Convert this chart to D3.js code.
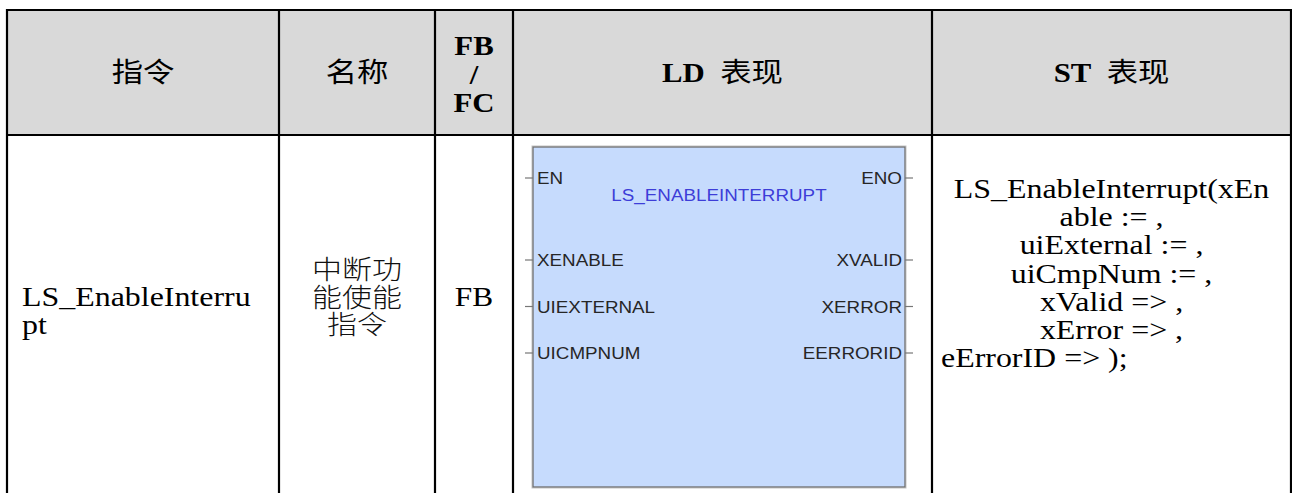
<!DOCTYPE html>
<html><head><meta charset="utf-8">
<script src="https://cdn.jsdelivr.net/npm/d3@7"></script>
<style>html,body{margin:0;padding:0;background:#fff;overflow:hidden} svg{display:block}</style>
</head><body>
<svg id="c" width="1292" height="493"></svg>
<script>
// ---------- data ----------
const headerLines = [["指令"], ["名称"], ["FB", "/", "FC"], ["LD 表现"], ["ST 表现"]];
const instructionLines = ["LS_EnableInterru", "pt"];
const nameLines = ["中断功", "能使能", "指令"];
const typeLines = ["FB"];
const blockName = "LS_ENABLEINTERRUPT";
const inputPins = ["EN", "XENABLE", "UIEXTERNAL", "UICMPNUM"];
const outputPins = ["ENO", "XVALID", "XERROR", "EERRORID"];
const stLines = ["LS_EnableInterrupt(xEn", "able := ,", "uiExternal := ,", "uiCmpNum := ,", "xValid => ,", "xError => ,", "eErrorID => );"];

(function () {
// ---------- layout ----------
const svg = d3.select("#c");
const colEdges = [7, 279, 435, 513, 932, 1291];
const tableTop = 10, headBottom = 135, bodyBottom = 505;
const edge = i => colEdges[i];
const center = i => (edge(i) + edge(i + 1)) / 2;
const K = 1.14; // horizontal stretch of the source picture

const SERIF = "'Liberation Serif','Times New Roman',serif";
const CJK = "'Noto Sans CJK SC','Noto Sans CJK JP',sans-serif";
const SANS = "'Liberation Sans',Arial,sans-serif";

function stext(x, y, anchor) {
  return svg.append("g").attr("transform", `translate(${x},${y}) scale(${K},1)`)
    .append("text").attr("x", 0).attr("y", 0).attr("text-anchor", anchor || "start");
}

// header background
svg.append("rect").attr("x", edge(0)).attr("y", tableTop)
  .attr("width", edge(5) - edge(0)).attr("height", headBottom - tableTop).attr("fill", "#d9d9d9");

// header text
const isCJK = s => /[\u3000-\u9fff]/.test(s);
headerLines.forEach((lines, ci) => {
  const yScale = d3.scaleLinear().domain([0, Math.max(1, lines.length - 1)])
    .range(lines.length === 1 ? [82, 82] : [55, 112]);
  lines.forEach((ln, li) => {
    const t = stext(center(ci), yScale(li), "middle").attr("fill", "#000");
    ln.split(/(\s+)/).forEach(part => {
      if (!part) return;
      if (/^\s+$/.test(part)) { t.append("tspan").attr("font-family", SERIF).attr("font-size", 27).text("\u00a0\u00a0"); return; }
      if (isCJK(part)) t.append("tspan").attr("font-family", CJK).attr("font-size", 27.5).attr("font-weight", 400).text(part);
      else t.append("tspan").attr("font-family", SERIF).attr("font-size", 27).attr("font-weight", "bold").text(part);
    });
  });
});

// body: instruction column
const lineY2 = d3.scaleLinear().domain([0, 1]).range([306, 334]);
instructionLines.forEach((ln, i) => {
  stext(edge(0) + 15, lineY2(i)).attr("font-family", SERIF).attr("font-size", 28).attr("fill", "#000").text(ln);
});
// name column
const lineY3 = d3.scaleLinear().domain([0, 2]).range([279, 334]);
nameLines.forEach((ln, i) => {
  stext(center(1), lineY3(i), "middle").attr("font-family", CJK).attr("font-size", 26.3)
    .attr("font-weight", 300).attr("fill", "#111").text(ln);
});
// type column
typeLines.forEach(ln => {
  stext(center(2), 306, "middle").attr("font-family", SERIF).attr("font-size", 27.5).attr("fill", "#000").text(ln);
});

// LD block
const bx0 = 533, bx1 = 905, by0 = 147, by1 = 487;
svg.append("rect").attr("x", bx0 - 1).attr("y", by0 - 1).attr("width", bx1 - bx0 + 2).attr("height", by1 - by0 + 2)
  .attr("fill", "none").attr("stroke", "#c4c4c4").attr("stroke-width", 1);
svg.append("rect").attr("x", bx0).attr("y", by0).attr("width", bx1 - bx0).attr("height", by1 - by0)
  .attr("fill", "#c6dbfd").attr("stroke", "#6f6f6f").attr("stroke-width", 1.3);
const pinY = d3.scaleLinear().domain([0, 1, 3]).range([178, 260, 353]);
stext((bx0 + bx1) / 2, 201, "middle").attr("font-family", SANS).attr("font-size", 16.5)
  .attr("fill", "#3d3dd8").text(blockName);
inputPins.forEach((p, i) => {
  svg.append("line").attr("x1", bx0 - 8).attr("x2", bx0).attr("y1", pinY(i)).attr("y2", pinY(i))
    .attr("stroke", "#777").attr("stroke-width", 1.2);
  stext(bx0 + 4, pinY(i) + 6).attr("font-family", SANS).attr("font-size", 16.5).attr("fill", "#262626").text(p);
});
outputPins.forEach((p, i) => {
  svg.append("line").attr("x1", bx1).attr("x2", bx1 + 8).attr("y1", pinY(i)).attr("y2", pinY(i))
    .attr("stroke", "#777").attr("stroke-width", 1.2);
  stext(bx1 - 3, pinY(i) + 6, "end").attr("font-family", SANS).attr("font-size", 16.5).attr("fill", "#262626").text(p);
});

// ST column
const stY = d3.scaleLinear().domain([0, stLines.length - 1]).range([198, 367]);
stLines.forEach((ln, i) => {
  const last = i === stLines.length - 1;
  stext(last ? edge(4) + 9 : center(4), stY(i), last ? "start" : "middle")
    .attr("font-family", SERIF).attr("font-size", 28).attr("fill", "#000").text(ln);
});

// grid lines
const g = svg.append("g").attr("stroke", "#000").attr("stroke-width", 2.2);
colEdges.forEach(cx => g.append("line").attr("x1", cx).attr("x2", cx).attr("y1", tableTop - 1).attr("y2", bodyBottom));
[tableTop, headBottom].forEach(yy => g.append("line").attr("x1", edge(0) - 1).attr("x2", edge(5) + 1).attr("y1", yy).attr("y2", yy));
})();
</script>
</body></html>
